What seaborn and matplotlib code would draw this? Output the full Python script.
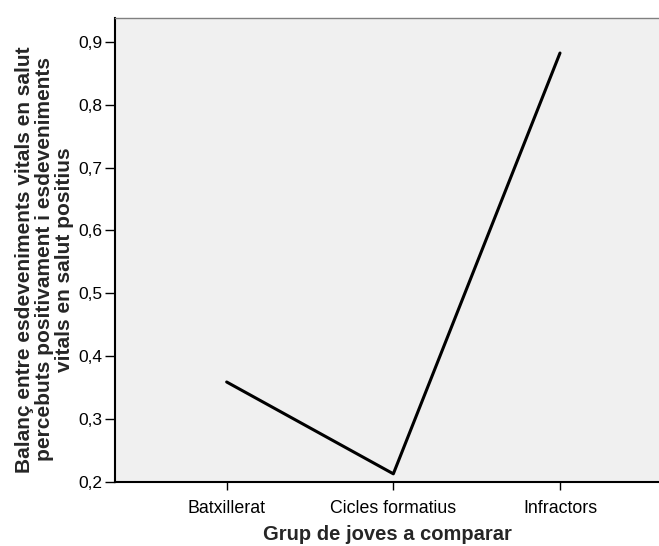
import matplotlib
matplotlib.use("Agg")
import matplotlib.pyplot as plt
import seaborn as sns
import pandas as pd

groups = ["Batxillerat", "Cicles formatius", "Infractors"]
values = [0.359, 0.213, 0.882]
yticks = [0.2, 0.3, 0.4, 0.5, 0.6, 0.7, 0.8, 0.9]
ytick_labels = ["0,2", "0,3", "0,4", "0,5", "0,6", "0,7", "0,8", "0,9"]

sns.set_theme(style="white")
plt.rcParams["font.family"] = ["Liberation Sans", "DejaVu Sans"]

df = pd.DataFrame({"grup": groups, "valor": values})

fig = plt.figure(figsize=(6.59, 5.46), dpi=100)
ax = fig.add_axes([115 / 659, 64 / 546, 1 - 115 / 659, (482 - 18) / 546])
ax.set_facecolor("#f0f0f0")

sns.lineplot(data=df, x="grup", y="valor", sort=False, color="black",
             linewidth=2.2, ax=ax)

ax.set_xlim(-0.67, 2.594)
ax.set_ylim(0.2, 0.9377)
ax.set_yticks(yticks)
ax.set_yticklabels(ytick_labels)

for s in ["left", "bottom"]:
    ax.spines[s].set_color("black")
    ax.spines[s].set_linewidth(1.5)
ax.spines["top"].set_color("#808080")
ax.spines["top"].set_linewidth(1.0)
ax.spines["right"].set_visible(False)

ax.tick_params(axis="y", which="major", length=7, width=1, color="black",
               labelsize=12.5, pad=2, left=True, labelcolor="black")
ax.tick_params(axis="x", which="major", length=6, width=1, color="black",
               labelsize=12.8, pad=7, bottom=True, labelcolor="black")

ax.set_xlabel("Grup de joves a comparar", fontsize=14.5, fontweight="bold",
              labelpad=6)
ax.set_ylabel("Balanç entre esdeveniments vitals en salut\n"
              "percebuts positivament i esdeveniments\n"
              "vitals en salut positius", fontsize=15, fontweight="bold",
              linespacing=1.05)
ax.yaxis.set_label_coords(-0.0754, 0.48)

fig.savefig("out.png", dpi=100)
